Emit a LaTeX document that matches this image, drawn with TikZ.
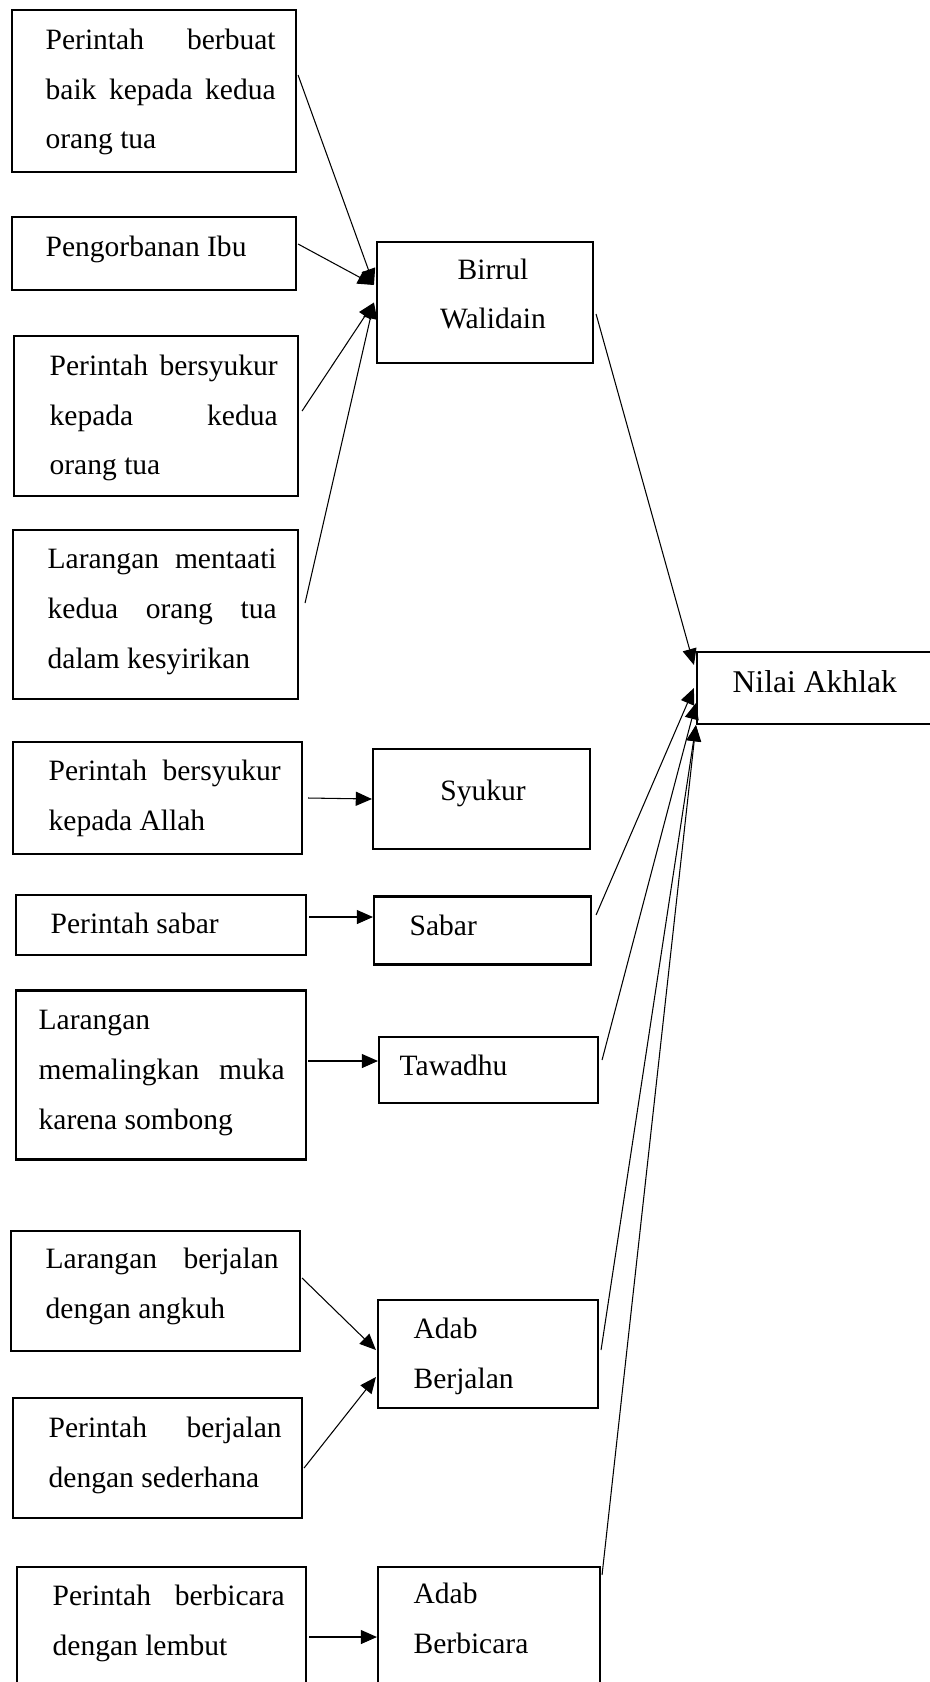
\documentclass[tikz,border=0pt]{standalone}
\usepackage{fontspec}
\setmainfont{Liberation Serif}
\usetikzlibrary{arrows.meta}

\tikzset{
  box/.style={draw, line width=0.6pt, inner sep=0pt},
  txt/.style={inner sep=0pt, font=\fontsize{8.4pt}{14.2pt}\selectfont},
  para/.style={txt, align=justify, text width=#1},
  arr/.style={-{Triangle[length=4.6pt,width=4pt]}, line width=0.3pt}
}

\begin{document}
\begin{tikzpicture}[x=1cm,y=-1cm]
\useasboundingbox (0,0) rectangle (9.30,16.82);
\clip (0,0) rectangle (9.30,16.82);

\coordinate (cBaik) at (1.54,0.91);
\coordinate (cIbu) at (1.54,2.535);
\coordinate (cSyukurOrtu) at (1.56,4.16);
\coordinate (cTaat) at (1.555,6.145);
\coordinate (cSyukurAllah) at (1.575,7.98);
\coordinate (cPSabar) at (1.61,9.25);
\coordinate (cPaling) at (1.61,10.75);
\coordinate (cAngkuh) at (1.555,12.91);
\coordinate (cSederhana) at (1.575,14.58);
\coordinate (cPBicara) at (1.615,16.285);
\coordinate (cBirrul) at (4.85,3.025);
\coordinate (cSyukur) at (4.815,7.99);
\coordinate (cSabar) at (4.825,9.305);
\coordinate (cTawadhu) at (4.885,10.70);
\coordinate (cBerjalan) at (4.88,13.54);
\coordinate (cBerbicara) at (4.89,16.285);
\coordinate (cNilai) at (8.185,6.88);

\node[box, minimum width=2.84cm, minimum height=1.62cm] (baik) at (cBaik) {};
\node[box, minimum width=2.84cm, minimum height=0.73cm] (ibu) at (cIbu) {};
\node[box, minimum width=2.84cm, minimum height=1.60cm] (syukurOrtu) at (cSyukurOrtu) {};
\node[box, minimum width=2.85cm, minimum height=1.69cm] (taat) at (cTaat) {};
\node[box, minimum width=2.89cm, minimum height=1.12cm] (syukurAllah) at (cSyukurAllah) {};
\node[box, minimum width=2.90cm, minimum height=0.60cm] (pSabar) at (cPSabar) {};
\node[box, minimum width=2.90cm, minimum height=1.69cm] (paling) at (cPaling) {};
\node[box, minimum width=2.89cm, minimum height=1.20cm] (angkuh) at (cAngkuh) {};
\node[box, minimum width=2.89cm, minimum height=1.20cm] (sederhana) at (cSederhana) {};
\node[box, minimum width=2.89cm, minimum height=1.23cm] (pBicara) at (cPBicara) {};
\node[box, minimum width=2.16cm, minimum height=1.21cm] (birrul) at (cBirrul) {};
\node[box, minimum width=2.17cm, minimum height=1.00cm] (syukur) at (cSyukur) {};
\node[box, minimum width=2.17cm, minimum height=0.68cm] (sabar) at (cSabar) {};
\node[box, minimum width=2.19cm, minimum height=0.66cm] (tawadhu) at (cTawadhu) {};
\node[box, minimum width=2.20cm, minimum height=1.08cm] (berjalan) at (cBerjalan) {};
\node[box, minimum width=2.22cm, minimum height=1.23cm] (berbicara) at (cBerbicara) {};
\node[box, minimum width=2.43cm, minimum height=0.72cm] (nilai) at (cNilai) {};

\node[para=2.30cm, anchor=west] (tBaik) at ([xshift=0.34cm,yshift=-0.01cm]baik.west) {Perintah berbuat\linebreak baik kepada kedua\linebreak orang tua};
\node[txt, anchor=west] (tIbu) at ([xshift=0.34cm,yshift=0.045cm]ibu.west) {Pengorbanan Ibu};
\node[para=2.28cm, anchor=west] (tSyukurOrtu) at ([xshift=0.36cm,yshift=-0.02cm]syukurOrtu.west) {Perintah bersyukur\linebreak kepada kedua\linebreak orang tua};
\node[para=2.29cm, anchor=west] (tTaat) at ([xshift=0.35cm,yshift=0.025cm]taat.west) {Larangan mentaati\linebreak kedua orang tua\linebreak dalam kesyirikan};
\node[para=2.32cm, anchor=west] (tSyukurAllah) at ([xshift=0.36cm]syukurAllah.west) {Perintah bersyukur\linebreak kepada Allah};
\node[txt, anchor=west] (tPSabar) at ([xshift=0.35cm,yshift=0.02cm]pSabar.west) {Perintah sabar};
\node[para=2.46cm, anchor=west] (tPaling) at ([xshift=0.23cm,yshift=0.02cm]paling.west) {Larangan\linebreak memalingkan muka\linebreak karena sombong};
\node[para=2.33cm, anchor=west] (tAngkuh) at ([xshift=0.35cm,yshift=0.05cm]angkuh.west) {Larangan berjalan\linebreak dengan angkuh};
\node[para=2.33cm, anchor=west] (tSederhana) at ([xshift=0.36cm,yshift=0.03cm]sederhana.west) {Perintah berjalan\linebreak dengan sederhana};
\node[para=2.32cm, anchor=west] (tPBicara) at ([xshift=0.36cm,yshift=0.055cm]pBicara.west) {Perintah berbicara\linebreak dengan lembut};
\node[txt, align=center] (tBirrul) at ([xshift=0.08cm,yshift=0.085cm]birrul.center) {Birrul\\Walidain};
\node[txt] (tSyukur) at ([xshift=0.015cm,yshift=0.06cm]syukur.center) {Syukur};
\node[txt, anchor=west] (tSabar) at ([xshift=0.36cm,yshift=0.055cm]sabar.west) {Sabar};
\node[txt, anchor=west] (tTawadhu) at ([xshift=0.21cm,yshift=0.05cm]tawadhu.west) {Tawadhu};
\node[txt, align=left, anchor=west] (tBerjalan) at ([xshift=0.36cm,yshift=-0.02cm]berjalan.west) {Adab\\Berjalan};
\node[txt, align=left, anchor=west] (tBerbicara) at ([xshift=0.36cm,yshift=0.10cm]berbicara.west) {Adab\\Berbicara};
\node[txt, font=\fontsize{9pt}{11pt}\selectfont, anchor=west] (tNilai) at ([xshift=0.36cm,yshift=0.06cm]nilai.west) {Nilai Akhlak};

\draw[arr] ([xshift=0.01cm,yshift=0.16cm]baik.east) -- ([xshift=-0.02cm,yshift=0.175cm]birrul.west);
\draw[arr] ([xshift=0.01cm,yshift=0.095cm]ibu.east) -- ([xshift=-0.02cm,yshift=0.175cm]birrul.west);
\draw[arr] ([xshift=0.03cm,yshift=0.05cm]syukurOrtu.east) -- ([xshift=-0.02cm]birrul.west);
\draw[arr] ([xshift=0.06cm,yshift=0.115cm]taat.east) -- ([xshift=-0.02cm]birrul.west);
\draw[arr] ([xshift=0.05cm]syukurAllah.east) -- (syukur.west);
\draw[arr] ([xshift=0.02cm,yshift=0.08cm]pSabar.east) -- ([yshift=0.135cm]sabar.west);
\draw[arr] ([xshift=0.01cm,yshift=0.14cm]paling.east) -- ([yshift=0.09cm]tawadhu.west);
\draw[arr] ([xshift=0.01cm,yshift=0.13cm]angkuh.east) -- ([xshift=-0.01cm,yshift=0.04cm]berjalan.west);
\draw[arr] ([xshift=0.01cm,yshift=-0.10cm]sederhana.east) -- ([xshift=-0.01cm,yshift=-0.23cm]berjalan.west);
\draw[arr] ([xshift=0.02cm,yshift=-0.085cm]pBicara.east) -- ([yshift=-0.085cm]berbicara.west);

\draw[arr] ([xshift=0.02cm,yshift=-0.115cm]birrul.east) -- ([xshift=-0.02cm,yshift=0.23cm]nilai.west);
\draw[arr] ([xshift=0.04cm,yshift=0.155cm]sabar.east) -- ([xshift=-0.02cm]nilai.west);
\draw[arr] ([xshift=0.03cm,yshift=0.10cm]tawadhu.east) -- ([yshift=-0.15cm]nilai.west);
\draw[arr] ([xshift=0.02cm,yshift=0.04cm]berjalan.east) -- (nilai.south west);
\draw[arr] ([xshift=0.01cm,yshift=-0.09cm]berbicara.north east) -- (nilai.south west);

\end{tikzpicture}
\end{document}
